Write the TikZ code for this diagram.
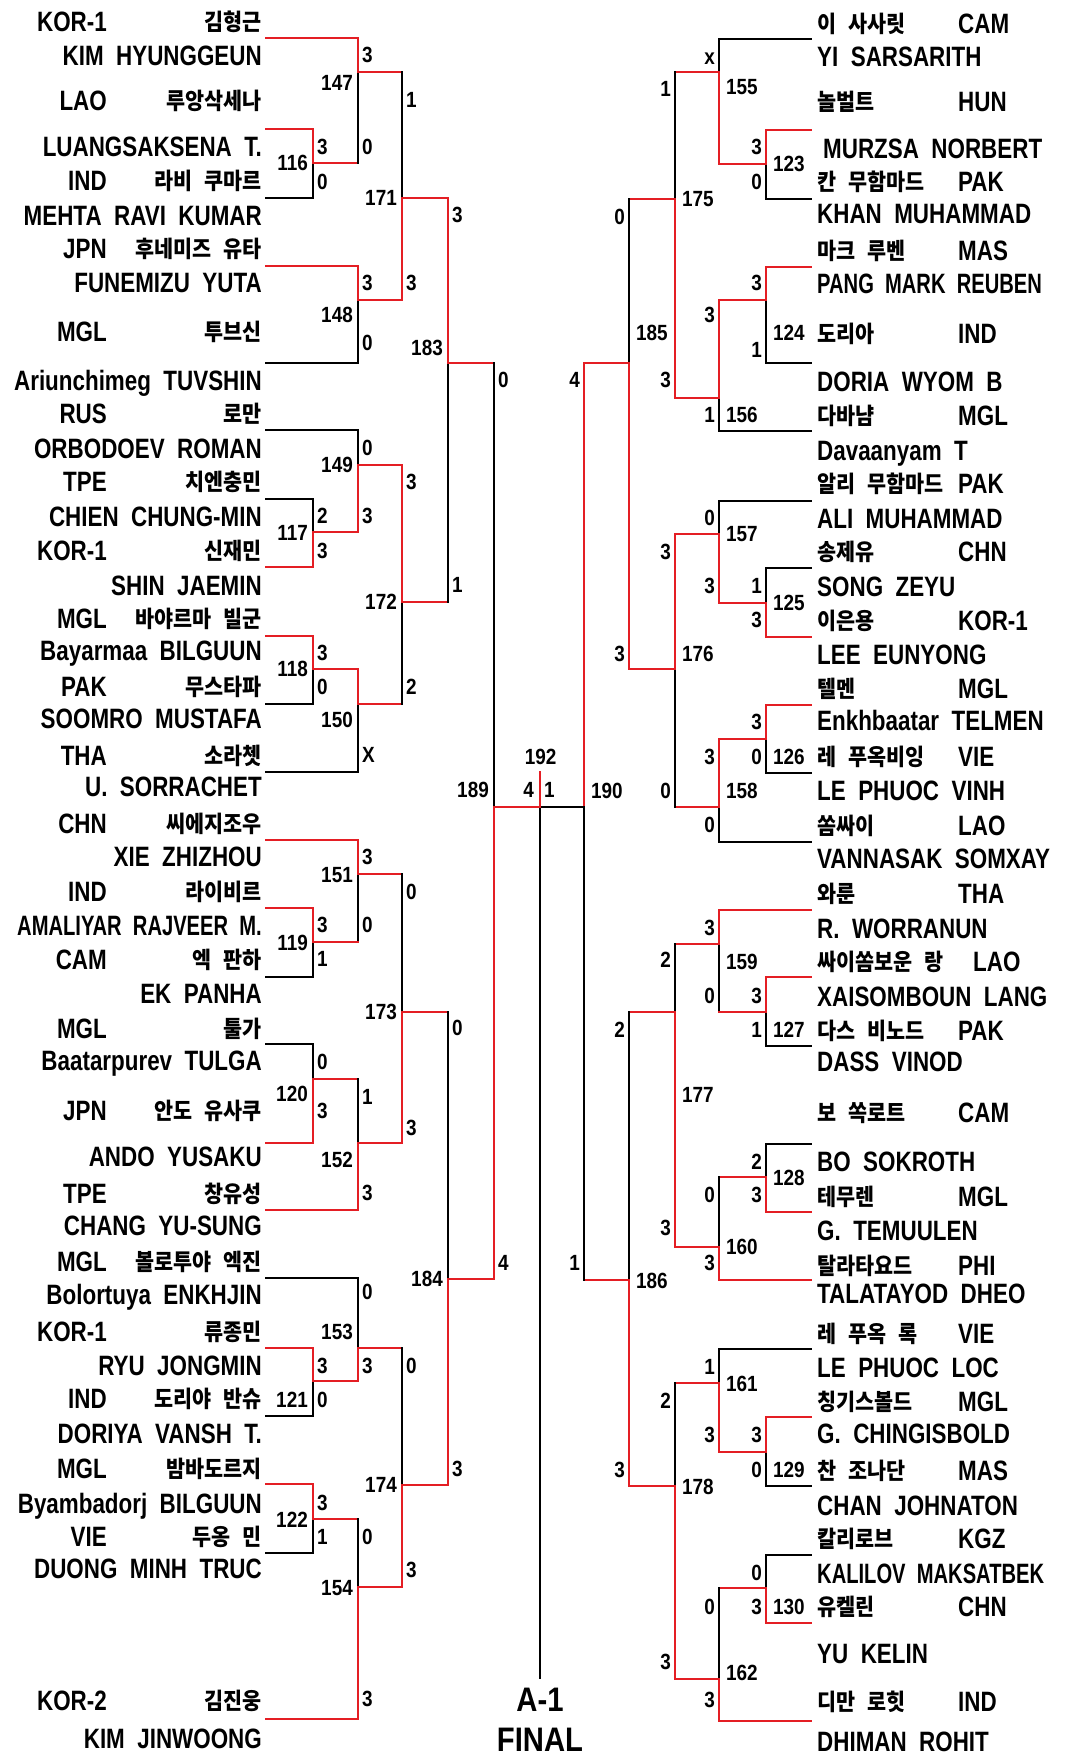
\documentclass[tikz,border=0pt]{standalone}
\usepackage{fontspec}
\setmainfont{Liberation Sans}[FakeStretch=0.8, WordSpace=2]
\newfontfamily\narrowf{Liberation Sans}[FakeStretch=0.72, WordSpace=2]
\newfontfamily\numf{Liberation Sans}[FakeStretch=0.86]
\newfontfamily\kr{Noto Sans CJK KR}[FakeStretch=0.9, WordSpace=2.5]
\definecolor{bred}{RGB}{228,30,36}
\newcounter{nd}
\tikzset{
  wl/.style={line width=2.6pt, line cap=rect, draw=bred},
  bl/.style={line width=2.6pt, line cap=rect, draw=black},
  lt/.style={font=\bfseries\fontsize{28}{30}\selectfont, inner sep=0pt},
  kt/.style={font={\kr\bfseries\fontsize{23}{25}\selectfont}, inner sep=0pt},
  sc/.style={font={\numf\bfseries\fontsize{22}{24}\selectfont}, inner sep=0pt},
  ft/.style={font={\numf\bfseries\fontsize{34}{36}\selectfont}, inner sep=0pt}
}
% match: xv ytop yout ybot ctop cbot xout cout
\newcommand\mt[8]{\draw[#5] (#1,#2) -- (#1,#3); \draw[#6] (#1,#3) -- (#1,#4); \draw[#8] (#1,#3) -- (#7,#3);}
\newcommand\lL[3]{\draw[#1] (266,#3) -- (#2,#3);}
\newcommand\rL[3]{\draw[#1] (#2,#3) -- (811,#3);}
\newcommand\nd{\stepcounter{nd}}
\newcommand\LP[5]{\nd\node[lt,anchor=base east] (c\arabic{nd}) at (107,#1+10) {#2};
  \nd\node[kt,anchor=base east] (k\arabic{nd}) at (262,#1+9) {#3};
  \nd\node[lt,anchor=base east] (e\arabic{nd}) at (262,#4+10) {#5};}
\newcommand\RP[5]{\nd\node[kt,anchor=base west] (k\arabic{nd}) at (817,#1+9) {#2};
  \nd\node[lt,anchor=base west] (c\arabic{nd}) at (958,#1+10) {#3};
  \nd\node[lt,anchor=base west] (e\arabic{nd}) at (817,#4+10) {#5};}
\newcommand\sL[3]{\nd\node[sc,anchor=west] (s\arabic{nd}) at (#1+4,#2) {#3};}
\newcommand\sR[3]{\nd\node[sc,anchor=east] (s\arabic{nd}) at (#1-4,#2) {#3};}
\newcommand\mL[3]{\nd\node[sc,anchor=east] (m\arabic{nd}) at (#1-5,#2) {#3};}
\newcommand\mR[3]{\nd\node[sc,anchor=west] (m\arabic{nd}) at (#1+7,#2) {#3};}
\begin{document}
\begin{tikzpicture}[x=1pt,y=-1pt]
\useasboundingbox (0,0) rectangle (1067,1756);
% ---------- left leaves
\lL{wl}{358}{38}
\lL{wl}{313}{129}
\lL{bl}{313}{198}
\lL{wl}{358}{266}
\lL{bl}{358}{363}
\lL{bl}{358}{430}
\lL{bl}{313}{499}
\lL{wl}{313}{567}
\lL{wl}{313}{636}
\lL{bl}{313}{704}
\lL{bl}{358}{772}
\lL{wl}{358}{840}
\lL{wl}{313}{908}
\lL{bl}{313}{977}
\lL{bl}{313}{1044}
\lL{wl}{313}{1143}
\lL{wl}{358}{1210}
\lL{bl}{358}{1278}
\lL{wl}{313}{1348}
\lL{bl}{313}{1416}
\lL{wl}{313}{1484}
\lL{bl}{313}{1553}
\lL{wl}{358}{1719}
% ---------- left matches
\mt{313}{129}{163}{198}{wl}{bl}{358}{wl}
\mt{358}{38}{72}{163}{wl}{bl}{402}{wl}
\mt{358}{266}{300}{363}{wl}{bl}{402}{wl}
\mt{402}{72}{198}{300}{bl}{wl}{448}{wl}
\mt{358}{430}{465}{532}{bl}{wl}{402}{wl}
\mt{313}{499}{532}{567}{bl}{wl}{358}{wl}
\mt{313}{636}{669}{704}{wl}{bl}{358}{wl}
\mt{358}{669}{704}{772}{wl}{bl}{402}{wl}
\mt{402}{465}{602}{704}{wl}{bl}{448}{wl}
\mt{448}{198}{363}{602}{wl}{bl}{494}{wl}
\mt{358}{840}{874}{942}{wl}{bl}{402}{wl}
\mt{313}{908}{942}{977}{wl}{bl}{358}{wl}
\mt{313}{1044}{1079}{1143}{bl}{wl}{358}{wl}
\mt{358}{1079}{1143}{1210}{bl}{wl}{402}{wl}
\mt{402}{874}{1012}{1143}{bl}{wl}{448}{wl}
\mt{313}{1348}{1381}{1416}{wl}{bl}{358}{wl}
\mt{358}{1278}{1348}{1381}{bl}{wl}{402}{wl}
\mt{313}{1484}{1519}{1553}{wl}{bl}{358}{wl}
\mt{358}{1519}{1587}{1719}{bl}{wl}{402}{wl}
\mt{402}{1348}{1485}{1587}{bl}{wl}{448}{wl}
\mt{448}{1012}{1279}{1485}{bl}{wl}{494}{wl}
\mt{494}{363}{807}{1279}{bl}{wl}{540}{wl}
% ---------- right leaves
\rL{bl}{719}{39}
\rL{wl}{766}{130}
\rL{bl}{766}{199}
\rL{wl}{766}{267}
\rL{bl}{766}{363}
\rL{bl}{719}{431}
\rL{bl}{719}{501}
\rL{bl}{766}{568}
\rL{wl}{766}{637}
\rL{wl}{766}{705}
\rL{bl}{766}{773}
\rL{bl}{719}{842}
\rL{wl}{719}{910}
\rL{wl}{766}{977}
\rL{bl}{766}{1046}
\rL{bl}{766}{1144}
\rL{wl}{766}{1212}
\rL{wl}{719}{1280}
\rL{bl}{719}{1349}
\rL{wl}{766}{1417}
\rL{bl}{766}{1486}
\rL{bl}{766}{1555}
\rL{wl}{766}{1623}
\rL{wl}{719}{1721}
% ---------- right matches
\mt{719}{39}{72}{164}{bl}{wl}{675}{wl}
\mt{766}{130}{164}{199}{wl}{bl}{719}{wl}
\mt{766}{267}{300}{363}{wl}{bl}{719}{wl}
\mt{719}{300}{398}{431}{wl}{bl}{675}{wl}
\mt{675}{72}{199}{398}{bl}{wl}{629}{wl}
\mt{719}{501}{534}{603}{bl}{wl}{675}{wl}
\mt{766}{568}{603}{637}{bl}{wl}{719}{wl}
\mt{766}{705}{739}{773}{wl}{bl}{719}{wl}
\mt{719}{739}{807}{842}{wl}{bl}{675}{wl}
\mt{675}{534}{669}{807}{wl}{bl}{629}{wl}
\mt{629}{199}{363}{669}{bl}{wl}{584}{wl}
\mt{719}{910}{944}{1012}{wl}{bl}{675}{wl}
\mt{766}{977}{1012}{1046}{wl}{bl}{719}{wl}
\mt{766}{1144}{1177}{1212}{bl}{wl}{719}{wl}
\mt{719}{1177}{1247}{1280}{bl}{wl}{675}{wl}
\mt{675}{944}{1012}{1247}{bl}{wl}{629}{wl}
\mt{719}{1349}{1383}{1452}{bl}{wl}{675}{wl}
\mt{766}{1417}{1452}{1486}{wl}{bl}{719}{wl}
\mt{766}{1555}{1588}{1623}{bl}{wl}{719}{wl}
\mt{719}{1588}{1679}{1721}{bl}{wl}{675}{wl}
\mt{675}{1383}{1486}{1679}{bl}{wl}{629}{wl}
\mt{629}{1012}{1280}{1486}{bl}{wl}{584}{wl}
\mt{584}{363}{807}{1280}{wl}{bl}{540}{bl}
% ---------- final
\draw[bl] (540,807) -- (540,1678);
\draw[wl] (494,807) -- (540,807);
\draw[wl] (540,772) -- (540,807);
% ---------- left texts
\LP{21.7}{KOR-1}{김형근}{55}{KIM HYUNGGEUN}
\LP{100}{LAO}{루앙삭세나}{146.7}{LUANGSAKSENA T.}
\LP{180}{IND}{라비 쿠마르}{215}{MEHTA RAVI KUMAR}
\LP{248.3}{JPN}{후네미즈 유타}{282.7}{FUNEMIZU YUTA}
\LP{331.7}{MGL}{투브신}{380}{Ariunchimeg TUVSHIN}
\LP{413.3}{RUS}{로만}{448.3}{ORBODOEV ROMAN}
\LP{481.7}{TPE}{치엔충민}{516}{CHIEN CHUNG-MIN}
\LP{550.7}{KOR-1}{신재민}{585}{SHIN JAEMIN}
\LP{618.3}{MGL}{바야르마 빌군}{650}{Bayarmaa BILGUUN}
\LP{686.7}{PAK}{무스타파}{718.3}{SOOMRO MUSTAFA}
\LP{755}{THA}{소라쳇}{786.7}{U. SORRACHET}
\LP{823.3}{CHN}{씨에지조우}{856.7}{XIE ZHIZHOU}
\LP{891.7}{IND}{라이비르}{925}{\narrowf AMALIYAR RAJVEER M.}
\LP{959.3}{CAM}{엑 판하}{993.3}{EK PANHA}
\LP{1028.3}{MGL}{툴가}{1060}{Baatarpurev TULGA}
\LP{1110.7}{JPN}{안도 유사쿠}{1156.7}{ANDO YUSAKU}
\LP{1193.3}{TPE}{창유성}{1225}{CHANG YU-SUNG}
\LP{1261.7}{MGL}{볼로투야 엑진}{1294}{Bolortuya ENKHJIN}
\LP{1331.7}{KOR-1}{류종민}{1365}{RYU JONGMIN}
\LP{1398.3}{IND}{도리야 반슈}{1433.3}{DORIYA VANSH T.}
\LP{1468.3}{MGL}{밤바도르지}{1503.3}{Byambadorj BILGUUN}
\LP{1536.7}{VIE}{두옹 민}{1568.3}{DUONG MINH TRUC}
\LP{1700}{KOR-2}{김진웅}{1738.3}{KIM JINWOONG}
% ---------- right texts
\RP{23.3}{이 사사릿}{CAM}{56.7}{YI SARSARITH}
\nd\node[kt,anchor=base west] (k\arabic{nd}) at (817,110.7) {놀벌트};
\nd\node[lt,anchor=base west] (c\arabic{nd}) at (958,111.7) {HUN};
\nd\node[lt,anchor=base west] (e\arabic{nd}) at (823,158.3) {MURZSA NORBERT};
\RP{181.7}{칸 무함마드}{PAK}{213.3}{KHAN MUHAMMAD}
\RP{250}{마크 루벤}{MAS}{283.3}{\narrowf PANG MARK REUBEN}
\RP{333.3}{도리아}{IND}{381.7}{DORIA WYOM B}
\RP{415}{다바냠}{MGL}{450}{Davaanyam T}
\RP{483.3}{알리 무함마드}{PAK}{518.3}{ALI MUHAMMAD}
\RP{551.7}{송제유}{CHN}{586.7}{SONG ZEYU}
\RP{620}{이은용}{KOR-1}{654}{LEE EUNYONG}
\RP{688.3}{텔멘}{MGL}{720}{Enkhbaatar TELMEN}
\RP{756.7}{레 푸옥비잉}{VIE}{790.7}{LE PHUOC VINH}
\RP{825}{쏨싸이}{LAO}{858.3}{VANNASAK SOMXAY}
\RP{893.3}{와룬}{THA}{928.3}{R. WORRANUN}
\nd\node[kt,anchor=base west] (k\arabic{nd}) at (817,970.7) {싸이쏨보운 랑};
\nd\node[lt,anchor=base west] (c\arabic{nd}) at (973,971.7) {LAO};
\nd\node[lt,anchor=base west] (e\arabic{nd}) at (817,1006) {XAISOMBOUN LANG};
\RP{1030}{다스 비노드}{PAK}{1061.7}{DASS VINOD}
\RP{1112.3}{보 쏙로트}{CAM}{1161.7}{BO SOKROTH}
\RP{1196.7}{테무렌}{MGL}{1230.7}{G. TEMUULEN}
\RP{1265}{탈라타요드}{PHI}{1293.3}{TALATAYOD DHEO}
\RP{1333.3}{레 푸옥 록}{VIE}{1367.3}{LE PHUOC LOC}
\RP{1401.7}{칭기스볼드}{MGL}{1433.3}{G. CHINGISBOLD}
\RP{1470}{찬 조나단}{MAS}{1505}{CHAN JOHNATON}
\RP{1538.3}{칼리로브}{KGZ}{1573.3}{\narrowf KALILOV MAKSATBEK}
\RP{1606.7}{유켈린}{CHN}{1653.3}{YU KELIN}
\RP{1701.7}{디만 로힛}{IND}{1741.7}{DHIMAN ROHIT}
% ---------- left scores
\sL{358}{55}{3}
\sL{402}{100}{1}
\sL{313}{146.7}{3}
\sL{358}{146.7}{0}
\sL{313}{181.7}{0}
\sL{448}{215}{3}
\sL{358}{282.7}{3}
\sL{402}{282.7}{3}
\sL{358}{343.3}{0}
\sL{494}{380}{0}
\sL{358}{448.3}{0}
\sL{402}{481.7}{3}
\sL{313}{516}{2}
\sL{358}{516}{3}
\sL{313}{550.7}{3}
\sL{448}{585}{1}
\sL{313}{652.7}{3}
\sL{313}{686.7}{0}
\sL{402}{686.7}{2}
\sL{358}{755}{X}
\sL{358}{856.7}{3}
\sL{402}{891.7}{0}
\sL{313}{925}{3}
\sL{358}{925}{0}
\sL{313}{959.3}{1}
\sL{448}{1028.3}{0}
\sL{313}{1061.7}{0}
\sL{358}{1097.3}{1}
\sL{313}{1110.7}{3}
\sL{402}{1128.3}{3}
\sL{358}{1193.3}{3}
\sL{494}{1263.3}{4}
\sL{358}{1291.7}{0}
\sL{313}{1366}{3}
\sL{358}{1366}{3}
\sL{402}{1366}{0}
\sL{313}{1400}{0}
\sL{448}{1469.3}{3}
\sL{313}{1502.7}{3}
\sL{313}{1536.7}{1}
\sL{358}{1536.7}{0}
\sL{402}{1570}{3}
\sL{358}{1699.3}{3}
% ---------- left match numbers
\mL{358}{83.3}{147}
\mL{313}{163.3}{116}
\mL{402}{197.7}{171}
\mL{358}{315}{148}
\mL{448}{348.3}{183}
\mL{358}{465}{149}
\mL{313}{533.3}{117}
\mL{402}{602.3}{172}
\mL{313}{669.3}{118}
\mL{358}{720}{150}
\mL{494}{790}{189}
\mL{358}{875}{151}
\mL{313}{943.3}{119}
\mL{402}{1011.7}{173}
\mL{313}{1094}{120}
\mL{358}{1160}{152}
\mL{448}{1279.3}{184}
\mL{358}{1331.7}{153}
\mL{313}{1400}{121}
\mL{402}{1485}{174}
\mL{313}{1520}{122}
\mL{358}{1588.3}{154}
% ---------- right scores
\sR{719}{58.3}{x}
\sR{675}{89.3}{1}
\sR{766}{146.7}{3}
\sR{766}{181.7}{0}
\sR{629}{216.7}{0}
\sR{766}{283.3}{3}
\sR{719}{315}{3}
\sR{766}{350}{1}
\sR{584}{380}{4}
\sR{675}{380}{3}
\sR{719}{415}{1}
\sR{719}{518.3}{0}
\sR{675}{551.7}{3}
\sR{719}{586}{3}
\sR{766}{586}{1}
\sR{766}{620}{3}
\sR{629}{654}{3}
\sR{766}{721.7}{3}
\sR{719}{756.7}{3}
\sR{766}{756.7}{0}
\sR{675}{790.7}{0}
\sR{719}{825}{0}
\sR{719}{928.3}{3}
\sR{675}{960}{2}
\sR{719}{996}{0}
\sR{766}{996}{3}
\sR{629}{1030}{2}
\sR{766}{1030}{1}
\sR{766}{1161.7}{2}
\sR{719}{1195}{0}
\sR{766}{1195}{3}
\sR{675}{1228.3}{3}
\sR{584}{1263.3}{1}
\sR{719}{1263.3}{3}
\sR{719}{1367.3}{1}
\sR{675}{1400.7}{2}
\sR{719}{1435}{3}
\sR{766}{1435}{3}
\sR{629}{1470}{3}
\sR{766}{1470}{0}
\sR{766}{1572.7}{0}
\sR{719}{1606.7}{0}
\sR{766}{1606.7}{3}
\sR{675}{1661.7}{3}
\sR{719}{1700}{3}
% ---------- right match numbers
\mR{719}{87.3}{155}
\mR{766}{164.3}{123}
\mR{675}{199}{175}
\mR{629}{332.7}{185}
\mR{766}{332.7}{124}
\mR{719}{415}{156}
\mR{719}{534}{157}
\mR{766}{602.7}{125}
\mR{675}{654}{176}
\mR{766}{756.7}{126}
\mR{584}{790.7}{190}
\mR{719}{790.7}{158}
\mR{719}{961.7}{159}
\mR{766}{1030}{127}
\mR{675}{1095}{177}
\mR{766}{1178.3}{128}
\mR{719}{1246.7}{160}
\mR{629}{1280.7}{186}
\mR{719}{1384}{161}
\mR{766}{1470}{129}
\mR{675}{1486.7}{178}
\mR{766}{1606.7}{130}
\mR{719}{1673.3}{162}
% ---------- final labels
\node[sc] (f192) at (540.7,756.7) {192};
\node[sc,anchor=east] (f4) at (534,790) {4};
\node[sc,anchor=west] (f1) at (544,790) {1};
\node[ft] (fa) at (540,1700) {A-1};
\node[ft] (ff) at (540,1740) {FINAL};
\end{tikzpicture}
\end{document}
